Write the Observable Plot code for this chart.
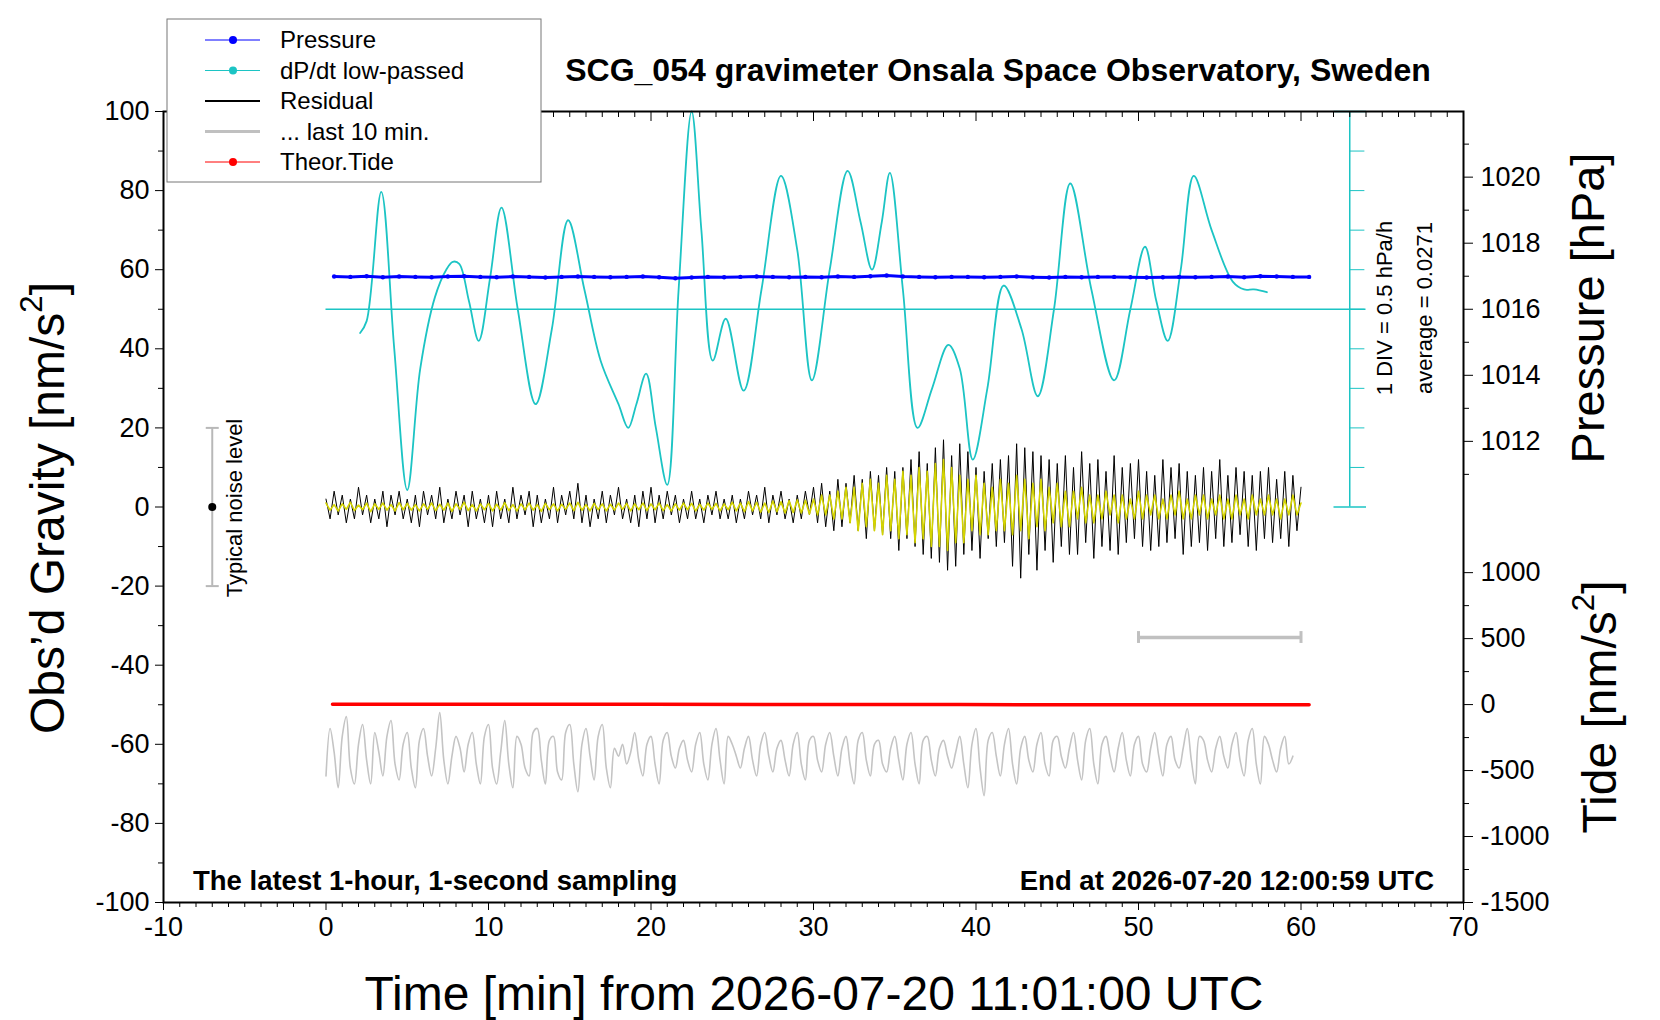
<!DOCTYPE html>
<html><head><meta charset="utf-8">
<script src="https://cdn.jsdelivr.net/npm/d3@7"></script>
<script src="https://cdn.jsdelivr.net/npm/@observablehq/plot@0.6"></script>
<style>body{margin:0;background:#fff}</style>
</head><body><div id="chart"></div>
<script>
// dP/dt low-passed, plotted in gravity-axis units (1 DIV = 10 units = 0.5 hPa/h, 50 = average)
const dpdtTime = [2.1,2.5,3.4,4.2,5.0,5.8,6.7,7.4,7.8,8.2,8.8,9.4,10.1,10.8,11.8,12.9,13.9,14.9,15.9,16.9,18.0,18.6,19.1,19.7,20.3,21.0,21.7,22.5,23.1,23.8,24.6,25.7,26.8,28.0,29.0,29.9,31.0,32.1,32.9,33.6,34.2,34.7,35.5,36.4,37.3,38.3,39.0,39.8,40.7,41.7,42.8,43.8,44.8,45.8,47.1,48.5,49.5,50.4,51.1,51.8,52.6,53.4,54.5,55.8,56.5,57.1,57.9];
const dpdtVal  = [44,47,79.7,40,4.3,35,53,60,62,61.5,52,42,58,75.7,50,26,45,72.5,55,37,26,20,26,33.7,20,5.6,55,100,70,37,47.6,29.4,55,83.7,65,32,60,85,72,60,72,84.5,55,20,30,41,35,12,30,56,45,28,50,81.8,55,32,50,65.8,52,42,60,83.7,70,57,55,55,54.3];
// Pressure [hPa], 1-min samples
const presTime = d3.range(0.5, 60.6, 1);
const presVal = [1016.99,1016.98,1017.00,1016.97,1016.99,1016.98,1016.97,1016.99,1017.00,1016.98,1016.97,1016.99,1016.98,1016.96,1016.98,1016.99,1016.98,1016.97,1016.98,1016.99,1016.97,1016.94,1016.96,1016.98,1016.97,1016.98,1016.99,1016.98,1016.97,1016.98,1016.97,1016.99,1016.98,1017.00,1017.02,1016.99,1016.98,1016.97,1016.98,1016.98,1016.97,1016.98,1016.99,1016.97,1016.96,1016.98,1016.97,1016.98,1016.98,1016.97,1016.96,1016.97,1016.98,1016.97,1016.98,1016.99,1016.97,1017.00,1016.99,1016.98,1016.98];
// Residual [nm/s^2], 0.25-min samples from 0 to 60
const residVal = [2,-3,4,-2,3,-4,2,-3,5,-2,3,-4,2,-3,4,-5,3,-2,4,-3,2,-4,3,-5,4,-2,3,-3,5,-4,2,-3,4,-2,3,-5,4,-3,2,-4,
3,-5,4,-3,2,-4,5,-3,3,-2,4,-5,3,-4,2,-3,5,-4,3,-2,4,-3,6,-4,3,-5,2,-3,4,-4,3,-2,5,-3,2,-4,3,-5,4,-3,
5,-4,3,-3,4,-2,3,-4,2,-3,4,-3,2,-4,3,-2,4,-3,2,-3,3,-4,2,-3,4,-2,3,-3,5,-4,3,-2,4,-3,2,-4,3,-3,4,-2,
5,-4,6,-5,4,-6,7,-5,6,-4,8,-6,7,-8,9,-6,8,-7,10,-8,9,-11,10,-8,
12,-10,14,-12,11,-13,15,-14,17,-16,13,-15,16,-12,14,-11,10,-13,9,-8,11,-10,12,-9,
13,-15,16,-18,15,-12,14,-16,13,-11,12,-14,11,-10,13,-12,
10,-12,14,-9,11,-13,12,-10,9,-11,13,-12,10,-9,11,-8,12,-10,9,-11,8,-10,12,-9,10,-8,11,-12,9,-10,8,-9,10,-11,9,-8,12,-10,8,-9,10,-7,9,-10,8,-11,9,-8,10,-9,7,-8,9,-10,8,-6,5];
// Residual filtered (yellow)
const filtVal = [1,-0.8,0.6,-1,0.8,-0.6,1.2,-0.9,0.5,-0.7,1,-1.2,0.8,-0.6,1,-0.8,0.6,-1,1.1,-0.7,0.9,-0.8,0.6,-1,0.8,-0.6,1,-0.9,0.7,-0.8,1,-1.1,0.8,-0.6,1.2,-0.9,0.6,-1,0.8,-0.7,
0.9,-1,0.7,-0.8,1.1,-0.9,0.6,-1,0.8,-0.7,1,-0.8,0.6,-1.1,0.9,-0.7,0.8,-1,0.7,-0.6,1,-0.9,1.2,-0.8,0.6,-1,0.9,-0.7,0.8,-1,0.7,-0.8,1,-0.6,0.9,-1,0.8,-0.7,1,-0.9,
0.8,-0.7,1,-0.9,0.6,-1,0.8,-0.8,1,-0.7,0.9,-1,0.7,-0.8,1,-0.6,0.9,-1,0.8,-0.7,1.2,-1,1,-1.2,1.4,-1,1.2,-1.3,1,-1.4,1.5,-1.2,1.3,-1.5,1.6,-1.4,1.8,-1.5,1.7,-1.8,
2,-2,3,-2,3,-3,4,-3,5,-4,5,-6,6,-5,7,-6,6,-7,8,-6,7,-8,9,-7,
8,-9,10,-8,9,-10,11,-10,12,-11,10,-9,8,-9,7,-6,8,-7,6,-7,5,-6,7,-6,
6,-7,8,-6,7,-8,6,-5,7,-6,5,-4,6,-5,4,-5,
4,-3,5,-4,3,-4,3,-3,4,-2,3,-4,3,-3,2,-3,4,-3,3,-2,3,-3,2,-3,3,-2,4,-3,2,-3,3,-2,3,-3,2,-2,3,-3,2,-3,3,-2,2,-3,3,-2,2,-2,3,-2,2,-3,2,-2,3,-2,1];
// Last 10 min residual, stretched over 0-60 (grey)
const lastVal = [-68,-56,-62,-71,-58,-53,-66,-70,-60,-55,-64,-70,-57,-62,-68,-58,-54,-65,-69,-60,-57,-66,-71,-59,-56,-63,-68,-61,-52,-64,-70,-63,-58,-61,-67,-60,-57,-65,-70,-58,
-55,-66,-70,-62,-54,-65,-71,-58,-60,-66,-68,-57,-56,-64,-70,-59,-58,-67,-69,-57,-55,-65,-72,-60,-56,-63,-69,-58,-55,-66,-71,-61,-63,-60,-65,-62,-57,-64,-68,-60,
-58,-65,-70,-59,-57,-63,-66,-61,-59,-64,-67,-60,-57,-65,-69,-60,-56,-64,-70,-58,-60,-63,-66,-61,-58,-64,-68,-60,-57,-63,-67,-61,-59,-64,-68,-60,-57,-65,-69,-59,
-58,-64,-67,-60,-57,-63,-68,-61,-58,-65,-70,-59,-57,-64,-68,-60,-59,-65,-67,-61,-58,-64,-69,-60,
-57,-65,-70,-59,-58,-64,-68,-61,-59,-63,-66,-62,-58,-65,-71,-60,-56,-66,-73,-59,-57,-63,-68,-60,
-56,-65,-70,-61,-58,-64,-67,-60,-57,-65,-68,-59,-58,-63,-66,-61,
-57,-64,-69,-59,-56,-65,-70,-60,-58,-63,-67,-61,-57,-64,-68,-60,-58,-65,-67,-61,-57,-63,-68,-60,-58,-64,-66,-61,-56,-64,-70,-58,-59,-64,-67,-61,-58,-63,-66,-60,-57,-64,-68,-59,-56,-65,-70,-58,-60,-64,-67,-61,-58,-65,-63];
// Theoretical tide [nm/s^2]
const tideTime = [0.4, 20, 39, 60.5];
const tideVal = [3, 2, 0, -2];
// axis ticks
const gTicks = d3.range(-100, 101, 20);
const xTicks = d3.range(-10, 71, 10);
const pressTicks = [1012,1014,1016,1018,1020];
const pressMinor = [1011,1013,1015,1017,1019,1021];
const tideTicks = [-1500,-1000,-500,0,500,1000];

const t25 = d3.range(0, 60.01, 0.25);
const pToG = p => 16.6 + (p - 1012) * 8.35;
const tToG = t => -16.6 + (t - 1000) * 0.03336;

const cyan = "#1cc4c4";
const resid = residVal.map((v,i)=>({t:t25[i], v}));
const filt = filtVal.map((v,i)=>({t:t25[i], v}));
const last = lastVal.map((v,i)=>({t:t25[i], v}));
const dpdt = dpdtTime.map((t,i)=>({t, v:dpdtVal[i]}));
const pres = presTime.map((t,i)=>({t, v:pToG(presVal[i])}));
const tide = tideTime.map((t,i)=>({t, v:tToG(tideVal[i])}));
const pLab = new Map(pressTicks.map(p=>[+pToG(p).toFixed(4), String(p)]));
const tLab = new Map(tideTicks.map(p=>[+tToG(p).toFixed(4), String(p)]));

const font = "'Liberation Sans', Arial, Helvetica, sans-serif";
const chart = Plot.plot({
  width: 1660, height: 1020,
  marginLeft: 163, marginRight: 197, marginTop: 111, marginBottom: 118,
  x: {domain: [-10, 70]},
  y: {domain: [-100, 100]},
  style: {fontFamily: font, fontSize: "27px", background: "white", color: "black"},
  marks: [
    // cyan scale
    Plot.ruleY([50], {x1: 0, x2: 64, stroke: cyan, strokeWidth: 1.3}),
    Plot.ruleX([63], {y1: 0, y2: 100, stroke: cyan, strokeWidth: 1.5}),
    Plot.link(d3.range(10, 100, 10), {x1: 63, x2: 63.9, y1: d=>d, y2: d=>d, stroke: cyan, strokeWidth: 1}),
    Plot.link([0, 100], {x1: 62, x2: 64, y1: d=>d, y2: d=>d, stroke: cyan, strokeWidth: 1.5}),
    Plot.line(dpdt, {x: "t", y: "v", stroke: cyan, strokeWidth: 1.8, curve: "catmull-rom"}),
    Plot.line(pres, {x: "t", y: "v", stroke: "#0000ff", strokeWidth: 3}),
    Plot.dot(pres, {x: "t", y: "v", fill: "#0000ff", r: 2.2}),
    Plot.line(resid, {x: "t", y: "v", stroke: "black", strokeWidth: 1}),
    Plot.line(filt, {x: "t", y: "v", stroke: "#d4d400", strokeWidth: 1.6}),
    Plot.line(last, {x: "t", y: "v", stroke: "#c4c4c4", strokeWidth: 1.6, curve: "catmull-rom"}),
    Plot.line(tide, {x: "t", y: "v", stroke: "#ff0000", strokeWidth: 3.5}),
    // last 10 min bar
    Plot.ruleY([-33], {x1: 50, x2: 60, stroke: "#c0c0c0", strokeWidth: 3.5}),
    Plot.ruleX([50, 60], {y1: -31.5, y2: -34.5, stroke: "#c0c0c0", strokeWidth: 3}),
    // noise level
    Plot.ruleX([-7], {y1: -20, y2: 20, stroke: "#b8b8b8", strokeWidth: 2}),
    Plot.link([-20, 20], {x1: -7.4, x2: -6.6, y1: d=>d, y2: d=>d, stroke: "#b8b8b8", strokeWidth: 2}),
    Plot.dot([0], {x: -7, y: d=>d, fill: "black", r: 4}),
    Plot.frame({stroke: "black", strokeWidth: 2}),
    Plot.axisX({ticks: xTicks, tickSize: 8, tickPadding: 6, tickFormat: d => String(d), label: null}),
    Plot.axisX({ticks: d3.range(-9, 70, 1).filter(d=>d%10), tickSize: 5, tickFormat: () => "", label: null}),
    Plot.axisX({anchor: "top", ticks: d3.range(-9, 70, 1).filter(d=>d%10), tickSize: -5, tickFormat: () => "", label: null}),
    Plot.axisX({anchor: "top", ticks: d3.range(0, 70, 10), tickSize: -9, tickFormat: () => "", label: null}),
    Plot.axisY({ticks: gTicks, tickSize: 8, tickPadding: 6, tickFormat: d => String(d), label: null}),
    Plot.axisY({ticks: d3.range(-90, 100, 20), tickSize: 5, tickFormat: () => "", label: null}),
    Plot.axisY({anchor: "right", ticks: pressTicks.map(pToG), tickSize: 9, tickPadding: 8,
      tickFormat: d => pLab.get(+d.toFixed(4)), label: null}),
    Plot.axisY({anchor: "right", ticks: pressMinor.map(pToG), tickSize: 5, tickFormat: () => "", label: null}),
    Plot.axisY({anchor: "right", ticks: tideTicks.map(tToG), tickSize: 9, tickPadding: 8,
      tickFormat: d => tLab.get(+d.toFixed(4)), label: null}),
    Plot.axisY({anchor: "right", ticks: [-1250,-750,-250,250,750].map(tToG), tickSize: 5, tickFormat: () => "", label: null})
  ]
});
document.getElementById("chart").append(chart);

const svg = d3.select(chart);
function txt(x, y, s, o = {}) {
  const t = svg.append("text").attr("x", x).attr("y", y).attr("font-family", font)
    .attr("font-size", o.size || 24).attr("font-weight", o.bold ? "bold" : null)
    .attr("text-anchor", o.anchor || "start").attr("fill", o.fill || "black").text(s);
  if (o.rot) t.attr("transform", `rotate(${o.rot},${x},${y})`);
  return t;
}
function sup(t, s) { t.append("tspan").attr("font-size", "0.65em").attr("dy", "-0.7em").text(s); t.append("tspan").attr("dy", "0.45em").text("]"); }

txt(998, 81, "SCG_054 gravimeter Onsala Space Observatory, Sweden", {size: 32, bold: true, anchor: "middle"});
txt(193, 890, "The latest 1-hour, 1-second sampling", {size: 27.5, bold: true});
txt(1434, 890, "End at 2026-07-20 12:00:59 UTC", {size: 27.5, bold: true, anchor: "end"});
txt(814, 1010, "Time [min] from 2026-07-20 11:01:00 UTC", {size: 48, anchor: "middle"});
sup(txt(64, 508, "Obs’d Gravity [nm/s", {size: 48, anchor: "middle", rot: -90}), "2");
txt(1604, 308, "Pressure [hPa]", {size: 47, anchor: "middle", rot: -90});
sup(txt(1616, 707, "Tide [nm/s", {size: 48, anchor: "middle", rot: -90}), "2");
txt(242, 508, "Typical noise level", {size: 22, anchor: "middle", rot: -90});
txt(1392, 308, "1 DIV = 0.5 hPa/h", {size: 22, anchor: "middle", rot: -90});
txt(1432, 308, "average = 0.0271", {size: 22, anchor: "middle", rot: -90});

// legend
const lg = svg.append("g");
lg.append("rect").attr("x", 167).attr("y", 19).attr("width", 374).attr("height", 163)
  .attr("fill", "white").attr("stroke", "#777").attr("stroke-width", 1);
const items = [["Pressure", "#0000ff", 1, true], ["dP/dt low-passed", cyan, 1, true], ["Residual", "black", 2, false],
  ["... last 10 min.", "#c0c0c0", 3, false], ["Theor.Tide", "#ff0000", 1, true]];
items.forEach(([name, c, w, dot], i) => {
  const y = 40 + i * 30.5;
  lg.append("line").attr("x1", 205).attr("x2", 260).attr("y1", y).attr("y2", y).attr("stroke", c).attr("stroke-width", w);
  if (dot) lg.append("circle").attr("cx", 233).attr("cy", y).attr("r", 4).attr("fill", c);
  lg.append("text").attr("x", 280).attr("y", y + 8).attr("text-anchor", "start")
    .attr("font-family", font).attr("font-size", 24).text(name);
});
</script></body></html>
